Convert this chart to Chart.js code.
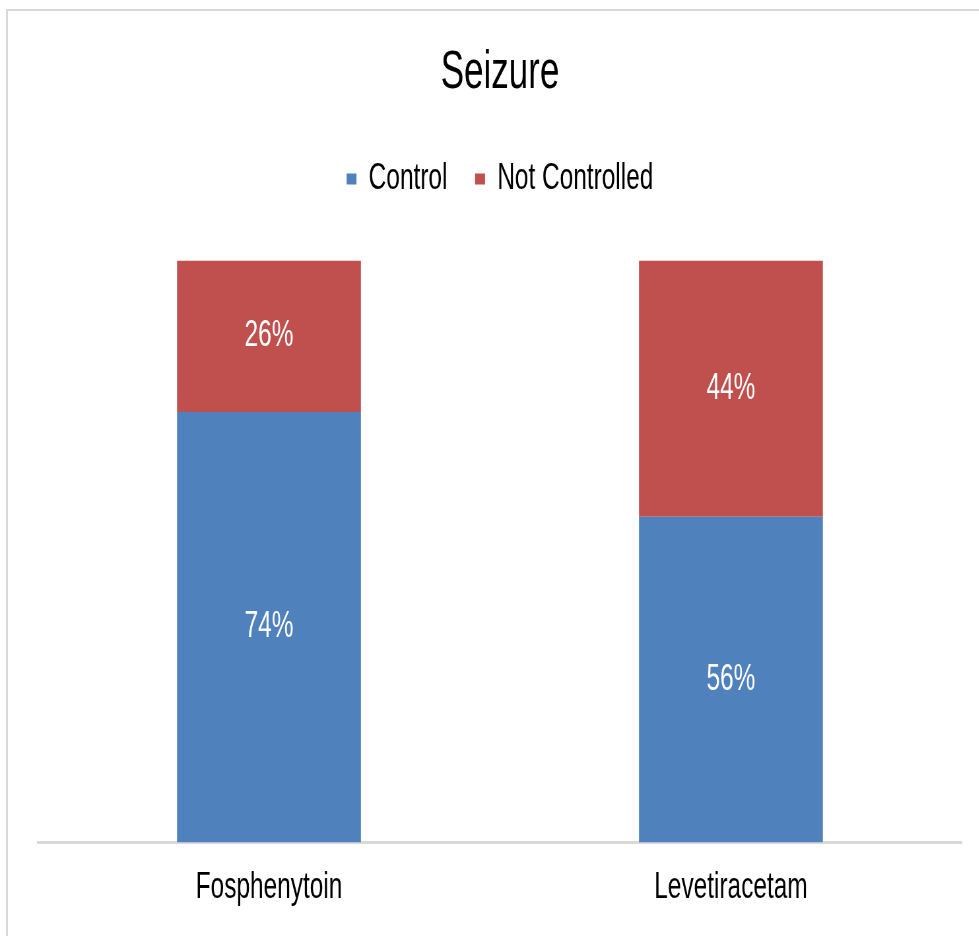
<!DOCTYPE html>
<html lang="en">
<head>
  <meta charset="UTF-8" />
  <title>Seizure</title>
  <script src="https://cdn.jsdelivr.net/npm/chart.js"></script>
  <style>
    body { margin: 0; background: #fff; overflow: hidden; }
    .frame {
      position: absolute; left: 6px; top: 9px; width: 1000px; height: 1000px;
      border-left: 2px solid #d9d9d9; border-top: 2px solid #d9d9d9;
    }
    /* the reference text is narrow, so the whole chart is squeezed sideways */
    #seizureChart {
      position: absolute; left: 0; top: 0;
      transform: scaleX(0.66); transform-origin: 0 0;
    }
  </style>
</head>
<body>
  <div class="frame"></div>
  <canvas id="seizureChart" width="1515" height="936"></canvas>

  <script>
    const drugs = ['Fosphenytoin', 'Levetiracetam'];
    const controlPct = [74, 56];
    const notControlledPct = [26, 44];

    const FONT = "'Liberation Sans', Arial, sans-serif";

    // write "74%" etc. in the middle of each bar segment
    const segmentLabels = {
      id: 'segmentLabels',
      afterDatasetsDraw(chart) {
        const ctx = chart.ctx;
        ctx.save();
        ctx.fillStyle = '#fff';
        ctx.font = '37px ' + FONT;
        ctx.textAlign = 'center';
        ctx.textBaseline = 'middle';
        chart.data.datasets.forEach((ds, i) => {
          chart.getDatasetMeta(i).data.forEach((bar, j) => {
            const p = bar.getProps(['x', 'y', 'base'], true);
            ctx.fillText(ds.data[j] + '%', p.x, (p.y + p.base) / 2);
          });
        });
        ctx.restore();
      }
    };

    // extra room between legend and bars
    const legendGap = {
      id: 'legendGap',
      beforeLayout(chart) {
        const lg = chart.legend;
        if (lg && !lg._gapPatched) {
          const fit = lg.fit;
          lg.fit = function () { fit.call(this); this.height += 53; };
          lg._gapPatched = true;
        }
      }
    };

    new Chart(document.getElementById('seizureChart'), {
      type: 'bar',
      data: {
        labels: drugs,
        datasets: [
          { label: 'Control', data: controlPct, backgroundColor: '#4F81BD' },
          { label: 'Not Controlled', data: notControlledPct, backgroundColor: '#C0504D' }
        ]
      },
      options: {
        responsive: false,
        animation: false,
        categoryPercentage: 1,
        barPercentage: 0.398,
        layout: { padding: { left: 57.6, right: 57.6, top: 0, bottom: 3 } },
        scales: {
          x: {
            stacked: true,
            grid: { display: false, drawTicks: false },
            border: { display: true, color: '#d9d9d9', width: 3 },
            ticks: { color: '#000', padding: 23, font: { family: FONT, size: 37 } }
          },
          y: { stacked: true, display: false, min: 0, max: 100 }
        },
        plugins: {
          title: {
            display: true,
            text: 'Seizure',
            color: '#000',
            font: { family: FONT, size: 53, weight: 'normal' },
            padding: { top: 42, bottom: 13 }
          },
          legend: {
            position: 'top',
            labels: {
              color: '#000',
              boxWidth: 15,
              boxHeight: 11,
              padding: 42,
              font: { family: FONT, size: 37 }
            }
          },
          tooltip: { enabled: false }
        }
      },
      plugins: [segmentLabels, legendGap]
    });
  </script>
</body>
</html>
